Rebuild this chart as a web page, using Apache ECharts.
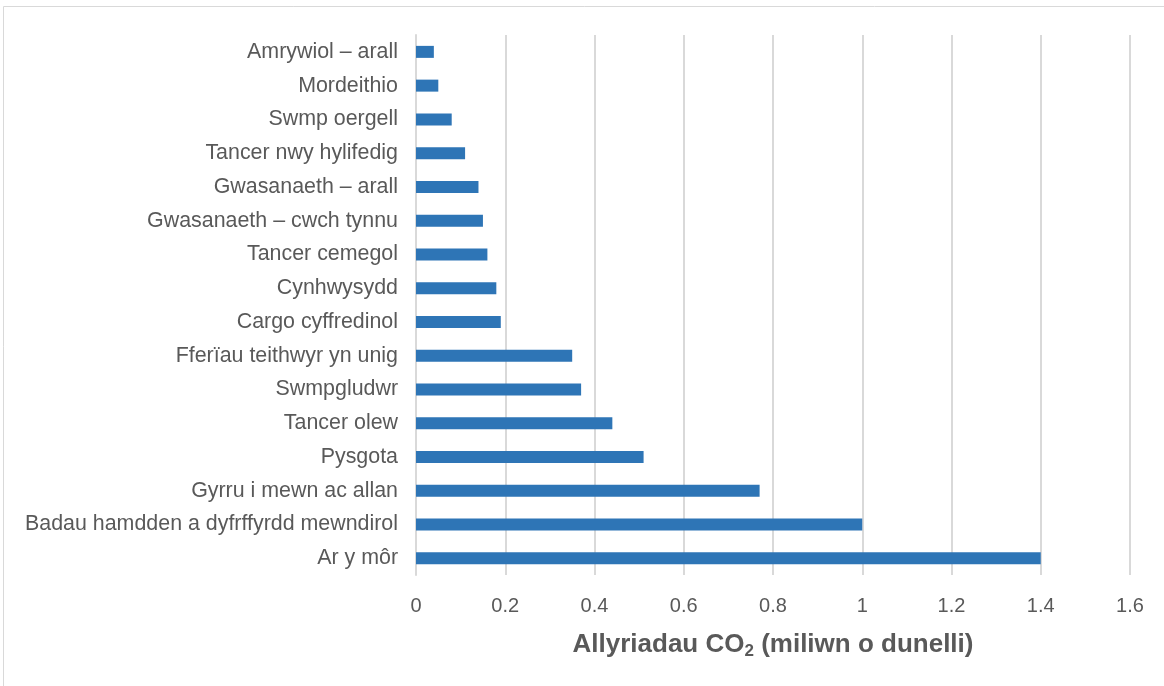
<!DOCTYPE html>
<html><head><meta charset="utf-8">
<script src="https://cdn.jsdelivr.net/npm/echarts@6/dist/echarts.min.js"></script>
<style>html,body{margin:0;padding:0;background:#fff}#c{width:1164px;height:686px}</style>
</head><body><div id="c"></div>
<script>
const categories = ['Ar y môr','Badau hamdden a dyfrffyrdd mewndirol','Gyrru i mewn ac allan','Pysgota','Tancer olew','Swmpgludwr','Fferïau teithwyr yn unig','Cargo cyffredinol','Cynhwysydd','Tancer cemegol','Gwasanaeth – cwch tynnu','Gwasanaeth – arall','Tancer nwy hylifedig','Swmp oergell','Mordeithio','Amrywiol – arall'];
const values = [1.4,1.0,0.77,0.51,0.44,0.37,0.35,0.19,0.18,0.16,0.15,0.14,0.11,0.08,0.05,0.04];
const xTicks = [0,0.2,0.4,0.6,0.8,1,1.2,1.4,1.6];

const F = 'Arial, Liberation Sans, sans-serif';
const chart = echarts.init(document.getElementById('c'));
chart.setOption({
  animation:false,
  graphic:[{type:'rect',shape:{x:3.5,y:6.5,width:1200,height:720},style:{fill:'none',stroke:'#d9d9d9',lineWidth:1}}],
  grid:{left:416,right:34,top:35,bottom:111,containLabel:false},
  xAxis:{type:'value',min:xTicks[0],max:xTicks[xTicks.length-1],interval:0.2,
    axisLine:{show:false},axisTick:{show:false},
    axisLabel:{color:'#595959',fontSize:20,fontFamily:F,margin:21,formatter:v=>String(+v.toFixed(1))},
    splitLine:{lineStyle:{color:'#d9d9d9',width:2}},
    name:'{a|Allyriadau CO}{s|2}{a| (miliwn o dunelli)}',nameLocation:'middle',nameGap:54,
    nameTextStyle:{rich:{a:{fontSize:26,fontWeight:'bold',color:'#595959',fontFamily:F},s:{fontSize:17,fontWeight:'bold',color:'#595959',fontFamily:F,verticalAlign:'bottom',padding:[14,0,0,0]}}}
  },
  yAxis:{type:'category',data:categories,
    axisLine:{show:true,lineStyle:{color:'#d9d9d9',width:2}},axisTick:{show:false},
    axisLabel:{color:'#595959',fontSize:21.4,fontFamily:F,margin:18}
  },
  series:[{type:'bar',data:values,barWidth:12,itemStyle:{color:'#2e75b6'}}]
});
</script></body></html>
